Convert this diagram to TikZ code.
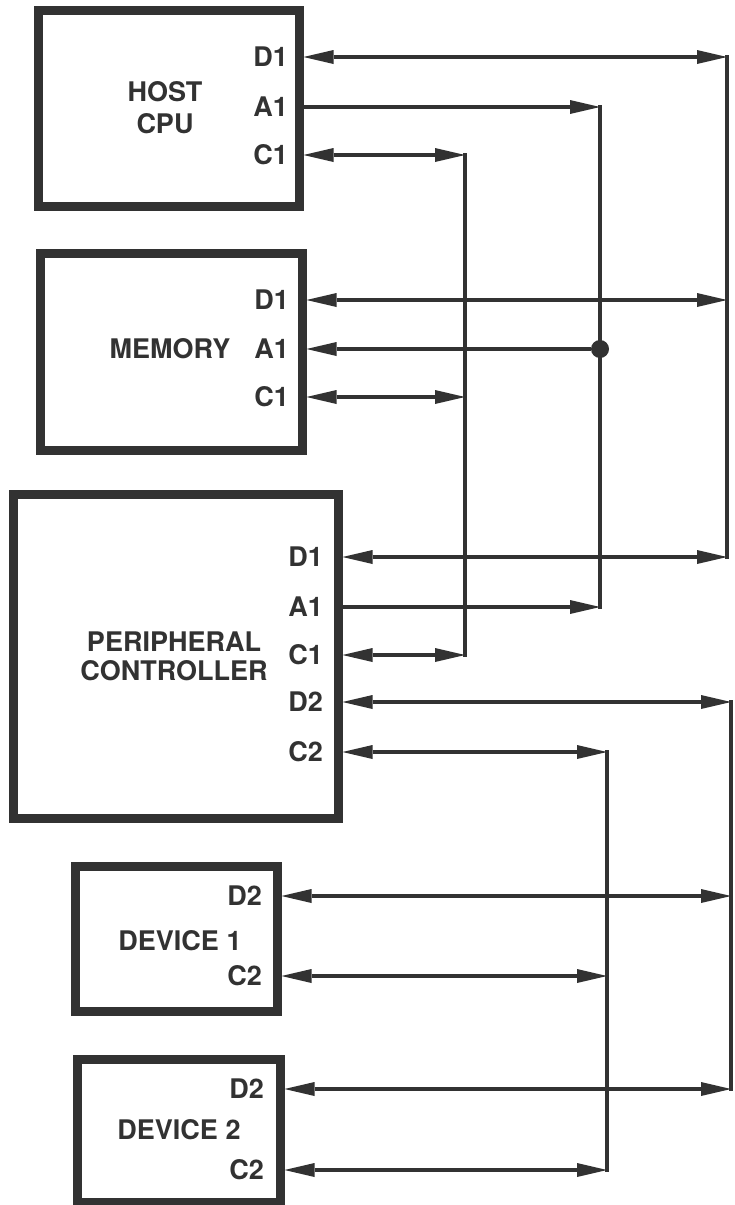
\documentclass[tikz,border=0pt]{standalone}
\usepackage{fontspec}
\setmainfont{TeX Gyre Heros}
\usetikzlibrary{arrows.meta}
\definecolor{ink}{RGB}{50,50,50}
\begin{document}
\begin{tikzpicture}[x=1pt,y=-1pt,
  box/.style={draw=ink, line width=9pt, inner sep=0pt},
  port/.style={text=ink, font=\fontsize{27}{27}\selectfont\bfseries, anchor=east, inner sep=0pt},
  title/.style={text=ink, align=center, inner sep=0pt},
  wire/.style={draw=ink, line width=4.5pt},
  bus/.style={draw=ink, line width=4.5pt, line cap=rect},
  >={Triangle[length=30pt,width=14pt,line width=0pt]},
  ]
\useasboundingbox (0,0) rectangle (734,1205);
\fill[white] (0,0) rectangle (734,1205);

% boxes
\node[box, minimum width=261pt, minimum height=196pt] (host) at (168.5,108) {};
\node[box, minimum width=262pt, minimum height=197pt] (mem) at (171,351.5) {};
\node[box, minimum width=325pt, minimum height=324pt] (pc) at (175.5,656) {};
\node[box, minimum width=202pt, minimum height=145pt] (dev1) at (176,938.5) {};
\node[box, minimum width=203pt, minimum height=143pt] (dev2) at (178.5,1130.5) {};

% titles
\node[title, font=\fontsize{27}{32}\selectfont\bfseries] (hostT) at (165,108) {HOST\\CPU};
\node[title, font=\fontsize{27}{32}\selectfont\bfseries] (memT) at (170,349) {MEMORY};
\node[title, font=\fontsize{27}{29}\selectfont\bfseries] (pcT) at (174,656) {PERIPHERAL\\CONTROLLER};
\node[title, font=\fontsize{27}{32}\selectfont\bfseries] (dev1T) at (180,941) {DEVICE 1};
\node[title, font=\fontsize{27}{32}\selectfont\bfseries] (dev2T) at (179,1130) {DEVICE 2};

% port labels
\node[port] (hD1) at (288,57) {D1};
\node[port] (hA1) at (288,107) {A1};
\node[port] (hC1) at (288,155) {C1};
\node[port] (mD1) at (289,300) {D1};
\node[port] (mA1) at (289,349) {A1};
\node[port] (mC1) at (289,397) {C1};
\node[port] (pD1) at (323,557) {D1};
\node[port] (pA1) at (323,607) {A1};
\node[port] (pC1) at (323,655) {C1};
\node[port] (pD2) at (323,702) {D2};
\node[port] (pC2) at (323,752) {C2};
\node[port] (aD2) at (262,896) {D2};
\node[port] (aC2) at (262,976) {C2};
\node[port] (bD2) at (264,1089) {D2};
\node[port] (bC2) at (264,1170) {C2};

% bus corners
\coordinate (d1t) at (727,57);
\coordinate (d1b) at (727,557);
\coordinate (a1t) at (600,107);
\coordinate (a1b) at (600,607);
\coordinate (c1t) at (465,155);
\coordinate (c1b) at (465,655);
\coordinate (d2t) at (731,702);
\coordinate (d2b) at (731,1089);
\coordinate (c2t) at (607,752);
\coordinate (c2b) at (607,1170);

% vertical buses
\draw[bus] (d1t) -- (d1b);
\draw[bus] (a1t) -- (a1b);
\draw[bus] (c1t) -- (c1b);
\draw[bus] (d2t) -- (d2b);
\draw[bus] (c2t) -- (c2b);

\node[circle, fill=ink, minimum size=18pt, inner sep=0pt] (jct) at (600,349) {};

% D1 bus
\draw[wire, <->] (host.east |- hD1) -- (d1t);
\draw[wire, <->] (mem.east |- mD1) -- (mem.east |- mD1 -| d1t);
\draw[wire, <->] (pc.east |- pD1) -- (d1b);
% A1 bus
\draw[wire, ->] (host.east |- hA1) -- (a1t);
\draw[wire, ->] (jct) -- (mem.east |- mA1);
\draw[wire, ->] (pc.east |- pA1) -- (a1b);
% C1 bus
\draw[wire, <->] (host.east |- hC1) -- (c1t);
\draw[wire, <->] (mem.east |- mC1) -- (mem.east |- mC1 -| c1t);
\draw[wire, <->] (pc.east |- pC1) -- (c1b);
% D2 bus
\draw[wire, <->] (pc.east |- pD2) -- (d2t);
\draw[wire, <->] (dev1.east |- aD2) -- (dev1.east |- aD2 -| d2t);
\draw[wire, <->] (dev2.east |- bD2) -- (d2b);
% C2 bus
\draw[wire, <->] (pc.east |- pC2) -- (c2t);
\draw[wire, <->] (dev1.east |- aC2) -- (dev1.east |- aC2 -| c2t);
\draw[wire, <->] (dev2.east |- bC2) -- (c2b);
\end{tikzpicture}
\end{document}
